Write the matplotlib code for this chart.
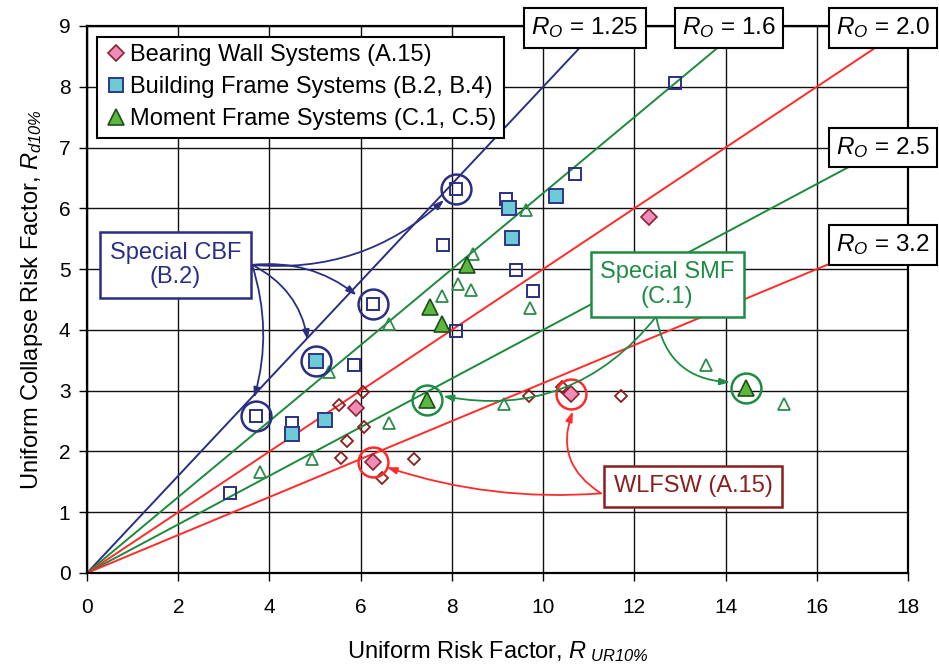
import matplotlib
matplotlib.use("Agg")
import matplotlib.pyplot as plt
import numpy as np

plt.rcParams["font.family"] = ["Liberation Sans", "DejaVu Sans"]
plt.rcParams["mathtext.fontset"] = "custom"
plt.rcParams["mathtext.rm"] = "Liberation Sans"
plt.rcParams["mathtext.it"] = "Liberation Sans:italic"
plt.rcParams["mathtext.sf"] = "Liberation Sans:italic"

# ---- data ----
# Bearing wall systems (A.15)
bw_fill_x = [12.33, 5.90, 10.61, 6.26]
bw_fill_y = [5.86, 2.71, 2.95, 1.83]
bw_open_x = [6.05, 5.53, 6.07, 5.69, 5.57, 6.46, 7.16, 9.69, 10.41, 11.70]
bw_open_y = [2.98, 2.76, 2.41, 2.17, 1.89, 1.57, 1.87, 2.91, 3.06, 2.91]

# Building frame systems (B.2, B.4)
bf_fill_x = [10.29, 9.26, 9.31, 5.01, 5.22, 4.49]
bf_fill_y = [6.20, 6.01, 5.51, 3.48, 2.52, 2.28]
bf_open_x = [12.89, 10.69, 8.08, 9.19, 7.81, 9.40, 9.77, 6.26, 8.09, 5.86, 3.70, 4.49, 3.13]
bf_open_y = [8.06, 6.57, 6.32, 6.16, 5.40, 4.98, 4.64, 4.43, 3.98, 3.43, 2.58, 2.47, 1.31]

# Moment frame systems (C.1, C.5)
mf_fill_x = [8.33, 7.52, 7.78, 7.45, 14.44]
mf_fill_y = [5.06, 4.37, 4.10, 2.85, 3.05]
mf_open_x = [9.62, 8.47, 8.13, 7.78, 8.41, 9.71, 6.61, 5.31, 13.57, 15.29, 9.15, 6.63, 4.94, 3.80]
mf_open_y = [5.98, 5.25, 4.76, 4.55, 4.66, 4.36, 4.09, 3.30, 3.43, 2.78, 2.78, 2.46, 1.88, 1.66]

# Overstrength reference lines  R_d = R_UR / R_O
ro_values = [1.25, 1.6, 2.0, 2.5, 3.2]
ro_colors = ["#2B2F84", "#1B8A3A", "#FF2A2A", "#1B8A3A", "#FF2A2A"]
ro_label_x = [10.91, 14.08, 17.45, 17.45, 17.45]
ro_label_y = [8.97, 8.97, 8.97, 7.00, 5.40]

# Highlighted archetypes
cbf_x = [3.70, 5.01, 6.26, 8.08]
cbf_y = [2.58, 3.48, 4.43, 6.32]
smf_x = [7.45, 14.44]
smf_y = [2.85, 3.05]
wlf_x = [6.26, 10.61]
wlf_y = [1.83, 2.95]

x_ticks = list(range(0, 19, 2))
y_ticks = list(range(0, 10))

NAVY = "#2B2F84"
GREEN = "#1E8C45"
RED = "#FF2A2A"
DARKRED = "#8B1F1F"

fig = plt.figure(figsize=(9.39, 6.70), dpi=100)
ax = fig.add_axes([0.0927, 0.1448, 0.8743, 0.8164])
ax.set_xlim(0, 18)
ax.set_ylim(0, 9)
ax.set_xticks(x_ticks)
ax.set_yticks(y_ticks)
ax.tick_params(direction="out", length=6, width=1.0, labelsize=15, pad=12)
ax.tick_params(axis="y", pad=6)
ax.grid(True, color="#111111", lw=1.0, zorder=0)
ax.set_axisbelow(True)
for s in ax.spines.values():
    s.set_linewidth(1.6)

# reference lines
xs = np.array([0, 18])
for ro, c in zip(ro_values, ro_colors):
    ax.plot(xs, xs / ro, color=c, lw=1.4, zorder=2)

# hollow markers
ax.plot(bw_open_x, bw_open_y, "D", ms=6.2, mfc="none", mec=DARKRED, mew=1.3, zorder=3)
ax.plot(bf_open_x, bf_open_y, "s", ms=8, mfc="none", mec=NAVY, mew=1.4, zorder=3)
ax.plot(mf_open_x, mf_open_y, "^", ms=9, mfc="none", mec="#2E8B4A", mew=1.3, zorder=3)

# filled markers
h1, = ax.plot(bw_fill_x, bw_fill_y, "D", ms=8.2, mfc="#F08CB8", mec="#8B2232", mew=1.2,
              zorder=4, label="Bearing Wall Systems (A.15)")
h2, = ax.plot(bf_fill_x, bf_fill_y, "s", ms=10.5, mfc="#6CCBD6", mec="#2E3585", mew=1.4,
              zorder=4, label="Building Frame Systems (B.2, B.4)")
h3, = ax.plot(mf_fill_x, mf_fill_y, "^", ms=11.5, mfc="#5CB83C", mec="#1D4D1D", mew=1.2,
              zorder=4, label="Moment Frame Systems (C.1, C.5)")

# highlight circles
ax.plot(cbf_x, cbf_y, "o", ms=21.5, mfc="none", mec=NAVY, mew=1.8, zorder=5)
ax.plot(smf_x, smf_y, "o", ms=21.5, mfc="none", mec=GREEN, mew=1.8, zorder=5)
ax.plot(wlf_x, wlf_y, "o", ms=21.5, mfc="none", mec=RED, mew=1.8, zorder=5)

leg = ax.legend(handles=[h1, h2, h3], loc="upper left", bbox_to_anchor=(0.012, 0.98),
                borderaxespad=0, fontsize=17, fancybox=False, framealpha=1,
                edgecolor="black", handletextpad=0.1, handlelength=1.0,
                labelspacing=0.42, borderpad=0.32)
leg.get_frame().set_linewidth(1.5)
leg.set_zorder(7)

# R_O labels
for ro, lx, ly in zip(ro_values, ro_label_x, ro_label_y):
    txt = r"$\mathit{R}_{\mathit{O}}$ = " + (f"{ro:.2f}" if ro == 1.25 else f"{ro:.1f}")
    ax.text(lx, ly, txt, fontsize=17.5, ha="center", va="center", zorder=8, clip_on=False,
            bbox=dict(boxstyle="square,pad=0.3", fc="white", ec="black", lw=1.5))


def callout(text, xy_text, color, tcolor):
    ax.text(xy_text[0], xy_text[1], text, fontsize=17, color=tcolor, ha="center",
            va="center", zorder=8, linespacing=1.15,
            bbox=dict(boxstyle="square,pad=0.4", fc="white", ec=color, lw=1.8))


def arrows(start, color, targets, rads):
    for (tx, ty), r in zip(targets, rads):
        ax.annotate("", xy=(tx, ty), xytext=start, zorder=6,
                    arrowprops=dict(arrowstyle="-|>,head_length=0.6,head_width=0.2",
                                    color=color, lw=1.3, shrinkA=0, shrinkB=0,
                                    connectionstyle=f"arc3,rad={r}"))


# Special CBF callout
arrows((3.62, 5.07), NAVY, [(7.83, 6.14), (5.91, 4.57), (4.84, 3.83), (3.66, 2.88)],
       [0.22, -0.2, -0.25, -0.15])
callout("Special CBF\n(B.2)", (1.94, 5.07), NAVY, NAVY)

# Special SMF callout
arrows((12.48, 4.22), GREEN, [(7.81, 2.91), (14.10, 3.14)], [-0.3, 0.4])
callout("Special SMF\n(C.1)", (12.72, 4.75), GREEN, GREEN)

# WLFSW callout
arrows((11.27, 1.31), RED, [(6.57, 1.74), (10.65, 2.66)], [-0.1, -0.4])
callout("WLFSW (A.15)", (13.29, 1.43), DARKRED, DARKRED)

ax.set_xlabel(r"Uniform Risk Factor, $\mathit{R}_{\ \mathsf{UR10\%}}$", fontsize=17, labelpad=16)
ax.set_ylabel(r"Uniform Collapse Risk Factor, $\mathit{R}_{\mathsf{d10\%}}$", fontsize=17, labelpad=10)

fig.savefig("out.png", dpi=100)
